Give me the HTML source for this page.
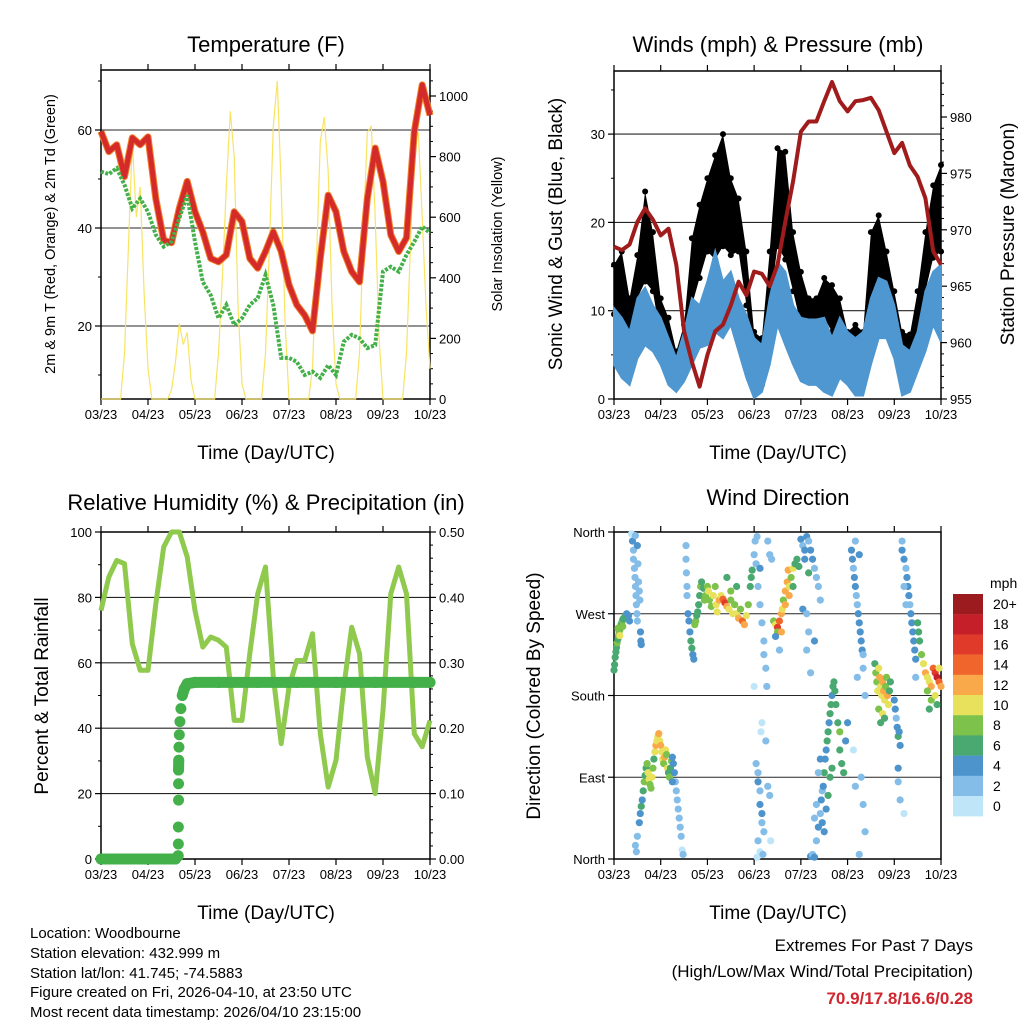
<!DOCTYPE html>
<html><head><meta charset="utf-8"><style>
body{margin:0;background:#fff}
svg{display:block;font-family:"Liberation Sans",sans-serif}
</style></head><body>
<svg id="c" width="1024" height="1024" viewBox="0 0 1024 1024">
<g font-size="22" text-anchor="middle">
<text x="266" y="52">Temperature (F)</text>
<text x="778" y="52">Winds (mph) &amp; Pressure (mb)</text>
<text x="266" y="510">Relative Humidity (%) &amp; Precipitation (in)</text>
<text x="778" y="505">Wind Direction</text>
</g>
<g font-size="19" text-anchor="middle">
<text x="266" y="459">Time (Day/UTC)</text>
<text x="778" y="459">Time (Day/UTC)</text>
<text x="266" y="919">Time (Day/UTC)</text>
<text x="778" y="919">Time (Day/UTC)</text>
<text transform="translate(55,234) rotate(-90)" font-size="14.5">2m &amp; 9m T (Red, Orange) &amp; 2m Td (Green)</text>
<text transform="translate(502,234) rotate(-90)" font-size="14.5">Solar Insolation (Yellow)</text>
<text transform="translate(562,234) rotate(-90)">Sonic Wind &amp; Gust (Blue, Black)</text>
<text transform="translate(1014,234) rotate(-90)">Station Pressure (Maroon)</text>
<text transform="translate(48,696) rotate(-90)">Percent &amp; Total Rainfall</text>
<text transform="translate(540,696) rotate(-90)">Direction (Colored By Speed)</text>
</g>
<g font-size="15">
<text x="30" y="938">Location: Woodbourne</text>
<text x="30" y="958">Station elevation: 432.999 m</text>
<text x="30" y="978">Station lat/lon: 41.745; -74.5883</text>
<text x="30" y="997">Figure created on Fri, 2026-04-10, at 23:50 UTC</text>
<text x="30" y="1017">Most recent data timestamp: 2026/04/10 23:15:00</text>
</g>
<g font-size="17" text-anchor="end">
<text x="973" y="951">Extremes For Past 7 Days</text>
<text x="973" y="977">(High/Low/Max Wind/Total Precipitation)</text>
<text x="973" y="1004" fill="#d02630" font-weight="bold">70.9/17.8/16.6/0.28</text>
</g>
</svg>
<script>
const dayLabels=["03/23","04/23","05/23","06/23","07/23","08/23","09/23","10/23"];
const hours4=[0,4,8,12,16,20,24,28,32,36,40,44,48,52,56,60,64,68,72,76,80,84,88,92,96,100,104,108,112,116,120,124,128,132,136,140,144,148,152,156,160,164,168];
const tempF=[59.7,55.6,57,50.5,58.4,57,58.6,46,37.5,37,44,49.5,43.3,39.2,33.8,33.1,34.5,43.3,41.3,33.8,31.8,35.2,39.2,35.2,28.4,24.3,22.2,19,33.8,46.7,43.3,35.2,31.1,29,46,56.3,49.5,38.6,35.2,38,59.7,69.2,63];
const dewF=[51.5,51,52.2,48.8,44,46,43.3,38.6,36.2,37.2,42,46.7,37.2,29,26.3,21.6,24.3,20.2,21.6,24.3,25.7,30.4,24.3,13.5,13.5,12.7,10,10.7,9.4,12,10,16.8,18.2,17.5,15.5,16.1,31.1,32.1,31.1,34.5,37.2,40.3,39];
const hours2=[0,2,4,6,8,10,12,14,16,18,20,22,24,26,28,30,32,34,36,38,40,42,44,46,48,50,52,54,56,58,60,62,64,66,68,70,72,74,76,78,80,82,84,86,88,90,92,94,96,98,100,102,104,106,108,110,112,114,116,118,120,122,124,126,128,130,132,134,136,138,140,142,144,146,148,150,152,154,156,158,160,162,164,166,168];
const solar=[0,0,0,0,0,0,150,500,850,600,700,350,100,0,0,0,0,0,30,120,250,180,220,60,0,0,0,0,0,0,150,400,700,950,800,300,50,0,0,0,0,0,150,500,900,1050,700,250,0,0,0,0,0,0,100,450,850,930,750,300,50,0,0,0,0,0,150,550,880,900,600,200,0,0,0,0,0,0,150,500,850,880,600,300,100];
const pressure=[968.5,968.2,968.7,970.7,971.9,970.9,969.5,970.1,966.9,961,958.3,956.1,958.9,961,961.6,963.3,965.4,964.2,966.3,966.1,965,966.9,970.7,974.3,978.7,979.6,979.6,981.4,983.1,981.4,980.5,981.4,981.5,981.7,980.6,978.7,976.8,977.7,975.7,974.7,972.8,968.1,966.9];
const windHi=[10.3,9.2,7.6,11.4,12.6,10.6,9.2,6.9,4.6,7.6,11.4,10.6,13.3,16.7,13.3,14.4,11.4,9.5,6.9,6.1,11.4,15.5,14.4,10.6,9.2,9,9,9.2,6.9,9.2,7.6,6.9,7.6,11.4,13.7,13.3,10.6,6.1,5.4,7.6,12.2,14.4,15.2];
const windLo=[3.9,2.4,1.6,4.6,6.1,5.4,3.9,1.6,0.8,2,3.9,5.8,6.1,7.6,6.9,8.4,5.4,2.4,0.1,0.8,3.9,8.4,6.1,3.9,2,1.6,1.6,0.8,0.4,2.4,1.6,0.4,0.4,3.9,6.9,6.9,4.6,0.4,0.8,3.1,5.4,8.4,6.5];
const gustHi=[15.2,16.7,11.4,16.3,23.5,18.9,11.4,9.2,5.4,8.4,18.2,22,25,27.6,30,25,22.7,16.7,7.6,6.9,16.7,28.4,28,18.9,14.4,11.4,11.4,13.7,12.9,11.4,7.6,8.4,7.6,18.9,20.8,16.7,12.2,7.6,7.3,12.2,18.9,24.2,26.5];
const gustLo=[9.6,9.4,5.4,11.4,13.3,12.2,6.9,3.9,1.6,3.1,10.6,13.7,16.7,15.8,17.3,16.3,16.7,10.6,3.5,1.6,10.6,17.3,15.8,12.2,8.4,6.9,6.9,9.2,7.6,5.4,3.9,4.6,3.9,11.4,13.7,11.4,7.6,4.6,3.9,6.9,12.2,16,16.7];
const rhPct=[76,86.2,91.3,90.3,65.8,57.7,57.7,78,95.4,100,100,92.4,76,64.8,67.9,66.9,64.8,42.4,42.4,62.8,81.1,89.3,55.7,35.3,52.6,60.7,60.7,68.9,38.3,22,30.2,52.6,70.9,62.8,31.2,20,45.5,81.1,89.3,81.1,38.3,34.3,42.4];
const precipHours=[0,4,8,12,16,20,24,28,32,36,38,39.4,39.5,39.5,39.6,39.6,39.6,39.7,39.8,40,40.3,40.8,41.5,42.5,44,48,60,80,100,120,140,160,168];
const precipIn=[0,0,0,0,0,0,0,0,0,0,0,0.005,0.023,0.049,0.09,0.115,0.136,0.151,0.171,0.19,0.21,0.23,0.25,0.26,0.268,0.27,0.27,0.27,0.27,0.27,0.27,0.27,0.27];
const dirHours=[0,0.3,0.6,1,1.3,1.6,2,2.3,2.6,3,3.3,3.6,4,4.3,4.6,5,5.5,6,6.5,7,7.5,8,2,3,4.5,
9.5,10,10,10.5,10.8,11,11.3,11.5,11.8,12,12.3,12.6,13,13.3,13.6,13.8,14,9,11,12,
11,11.5,12,13,13.5,14,14.5,15,15.5,16,16.5,17,17.5,18,18.5,19,19.5,20,20.5,21,21.5,22,22.5,23,23.5,24,24.5,25,25.5,26,26.5,27,27.5,28,28.5,29,29.5,30,30.5,31,31.5,32,32.5,33,33.5,34,34.5,35,35.5,30,
37,37,37.2,37.5,37.5,38,38.5,39,39.5,40,40.5,41,41.5,42,42.5,43,43.5,44,44.5,45,46,46.5,47,48,48.5,49,50,51,52,52.5,53,54,55,56,57,58,59,60,61,62,63,64,65,66,67,68,69,70,70.5,71,63,58,60,
72,72.5,73,73.5,74,75,75,76,77,77,78,78.5,75.5,76,78,73,74,74,75,75,76,76,77,74,75,73.5,76.5,79,80,80.5,79,80,81,72,
82,83,84,85,86,86.5,87,88,89,89.5,90,91,92,93,94,95,84,86,88,90,83,92,85,
96,97,98,99,100,101,102,103,104,105,106,98,100,97,99,100,103,99,101,
101,102,103,104,105,106,106.5,107,107.5,108,108.5,109,109.5,110,110.5,111,111.5,112,112.5,113,113.5,114,115,116,116,117,118,119,120,104,103,105,106,107,108,109,110,111,112,
122,122.5,123,123.5,124,124.5,125,125.5,126,126.5,127,127.5,128,126,124,128,125,129,127,128,129,126,123,124,
134,134.5,135,135.5,136,136.5,137,137.5,138,138.5,139,139.5,140,140.5,141,141.5,142,136,138,137,139,
144,144.5,145,145.5,146,146.5,147,146,146,147,149,
148,149,150,150.5,151,151.5,152,152.5,153,153.5,154,154.5,155,156,156.5,157,148,149,150,155,
158,159,160,161,162,163,164,165,166,167,168,161,163,165,162,166,167];
const dirDegrees=[208,214,222,228,233,238,242,246,250,252,255,258,260,262,264,265,266,268,270,266,268,262,254,246,256,
350,340,330,320,310,300,290,280,270,345,325,305,295,285,250,240,236,358,356,262,
15,8,25,40,50,58,65,75,85,92,100,105,95,88,82,78,90,100,110,118,125,130,135,138,130,125,118,110,105,112,120,115,100,95,90,100,108,112,105,95,85,75,65,55,45,35,25,10,5,85,
345,330,315,300,290,270,262,250,240,232,225,220,258,262,268,272,280,290,300,305,298,285,290,300,295,285,278,290,300,280,272,285,290,286,282,278,275,285,270,280,270,265,275,262,258,268,280,300,310,318,300,310,295,
335,350,325,355,300,320,280,260,240,225,210,190,140,150,130,105,95,85,75,60,50,40,30,20,8,2,5,80,70,20,350,335,330,190,
262,258,255,262,270,275,285,295,305,318,300,310,320,325,330,322,250,250,280,290,245,300,230,
352,345,340,355,350,340,330,320,310,300,285,330,315,275,270,250,240,230,205,
3,5,2,20,35,50,65,75,80,95,110,120,130,140,150,160,170,180,190,195,185,170,150,140,120,105,95,130,150,60,45,95,110,40,30,55,70,90,100,
340,330,320,310,300,290,280,270,260,250,240,230,225,335,350,210,200,180,90,60,30,5,120,80,
215,205,195,185,210,200,190,180,195,185,175,190,200,180,170,185,195,165,160,150,155,
175,165,155,145,135,140,125,100,85,65,50,
340,330,320,310,300,290,280,270,260,250,240,230,220,260,250,240,350,300,280,200,
225,215,205,200,195,190,210,205,200,195,190,185,175,180,165,170,210];
const dirSpeeds=[6,7,6,7,6,8,7,8,9,8,7,8,7,8,7,6,7,6,5,6,4,4,9,10,8,
4,3,3,2,3,3,2,3,3,4,2,3,2,3,4,4,4,1,2,2,
2,2,2,4,4,6,4,6,8,7,6,8,10,10,8,9,10,9,7,10,12,11,10,12,10,12,11,10,9,12,10,8,10,7,8,6,8,4,4,4,3,2,3,2,2,2,2,1,2,4,
3,2,3,2,3,4,4,5,6,6,4,4,9,8,6,7,6,7,8,7,6,8,9,8,10,9,8,10,9,10,11,12,11,14,16,12,10,9,10,8,11,12,9,14,13,10,8,7,6,6,7,7,8,
3,2,2,2,3,4,2,2,2,3,2,2,1,1,2,2,3,4,3,4,5,3,2,2,1,1,2,2,2,1,3,3,2,1,
9,10,16,14,12,10,8,12,12,13,11,8,10,7,6,7,8,12,13,12,5,6,3,
4,3,4,4,3,4,4,3,3,2,3,4,6,4,3,2,4,3,2,
4,3,4,3,4,3,4,3,5,6,4,5,6,6,5,6,6,5,6,7,6,6,6,8,6,6,7,4,4,2,2,3,4,5,4,5,6,7,6,
4,4,3,4,4,3,3,4,4,5,4,4,3,4,2,2,2,2,2,2,2,2,1,2,
6,8,8,10,11,12,10,11,12,12,10,9,8,12,10,7,6,8,10,6,7,
4,4,3,5,6,4,4,4,2,2,1,
4,4,3,4,4,4,3,4,4,5,4,5,4,6,6,7,2,2,3,3,
8,10,12,11,10,12,14,16,18,14,12,9,8,10,6,7,10];
const speedBinLabels=["20+","18","16","14","12","10","8","6","4","2","0"];
const speedColors=["#9b1b1f","#c5202a","#e03a2b","#f0652b","#f9a94a","#e8e15b","#7dc24b","#4aa871","#4d93cc","#84bde8","#bfe6f8"];

const NS="http://www.w3.org/2000/svg";
const svg=document.getElementById('c');
function mk(tag,attrs,parent){const e=document.createElementNS(NS,tag);for(const k in attrs)e.setAttribute(k,attrs[k]);(parent||svg).appendChild(e);return e;}
function grp(name){const g=mk('g',{});


return g;}
const L={x0:101,x1:430},R={x0:614,x1:941};
function xs(p,h){return p.x0+(p.x1-p.x0)*h/168;}
const tempY=t=>424-4.9*t, solarY=s=>399-0.303*s;
const windY=w=>399-8.83*w, presY=p=>399-11.28*(p-955);
const rhY=r=>859-3.27*r, prY=p=>859-654*p;
const dirY=d=>859-d*327/360;

function frame(p,top,bot,name){
  const g=grp(name);
  mk('rect',{x:p.x0,y:top,width:p.x1-p.x0,height:bot-top,fill:'none',stroke:'#000','stroke-width':1.5},g);
  dayLabels.forEach((lab,i)=>{const x=p.x0+(p.x1-p.x0)*i/7;
    mk('line',{x1:x,x2:x,y1:bot,y2:bot+6,stroke:'#000','stroke-width':1.2},g);
    mk('line',{x1:x,x2:x,y1:top,y2:top-6,stroke:'#000','stroke-width':1.2},g);
    const t=mk('text',{x:x,y:bot+20,'font-size':13,'text-anchor':'middle'},g);t.textContent=lab;
    
    
  });
  return g;
}
function yTicks(g,vals,fy,x,side,labels,grid,p){
  vals.forEach((v,i)=>{const y=fy(v);
    if(grid&&y>p.top+2&&y<p.bot-2) mk('line',{x1:p.x0,x2:p.x1,y1:y,y2:y,stroke:'#000','stroke-width':1.1,opacity:0.85},g);
    mk('line',{x1:x,x2:x+(side<0?-6:6),y1:y,y2:y,stroke:'#000','stroke-width':1.2},g);
    if(labels&&labels[i]!==null){const t=mk('text',{x:x+(side<0?-9:9),y:y+5,'font-size':13,'text-anchor':side<0?'end':'start'},g);t.textContent=labels[i];
      
      }
  });
}
function minor(g,vals,fy,x,side){vals.forEach(v=>{const y=fy(v);mk('line',{x1:x,x2:x+(side<0?-3:3),y1:y,y2:y,stroke:'#000','stroke-width':1},g);});}
function path(pts){return pts.map((p,i)=>(i?'L':'M')+p[0].toFixed(1)+','+p[1].toFixed(1)).join('');}

{const P={x0:L.x0,x1:L.x1,top:70,bot:399};
 const g=frame(L,70,399,'temperature-panel');
 yTicks(g,[20,40,60],tempY,L.x0,-1,["20","40","60"],true,P);
 minor(g,[10,30,50,70],tempY,L.x0,-1);
 yTicks(g,[0,200,400,600,800,1000],solarY,L.x1,1,["0","200","400","600","800","1000"],false,P);
 const m=[];for(let s=50;s<1080;s+=50)if(s%200)m.push(s);minor(g,m,solarY,L.x1,1);
 const sp=mk('path',{d:path(hours2.map((h,i)=>[xs(L,h),solarY(solar[i])])),fill:'none',stroke:'#f8e463','stroke-width':1.2},g);
 
 
 const tp=hours4.map((h,i)=>[xs(L,h),tempY(tempF[i])]);
 const o=mk('path',{d:path(tp),fill:'none',stroke:'#f07f2a','stroke-width':7,'stroke-linejoin':'round'},g);
 
 
 const r=mk('path',{d:path(tp),fill:'none',stroke:'#d42a2a','stroke-width':5,'stroke-linejoin':'round'},g);
 
 
 const d=mk('path',{d:path(hours4.map((h,i)=>[xs(L,h),tempY(dewF[i])])),fill:'none',stroke:'#44b04a','stroke-width':4,'stroke-dasharray':'3 1.5'},g);
 
 
}
{const P={x0:R.x0,x1:R.x1,top:71,bot:399};
 const g=frame(R,71,399,'wind-panel');
 yTicks(g,[0,10,20,30],windY,R.x0,-1,["0","10","20","30"],true,P);
 minor(g,[5,15,25,35],windY,R.x0,-1);
 yTicks(g,[955,960,965,970,975,980],presY,R.x1,1,["955","960","965","970","975","980"],false,P);
 const m=[];for(let p=956;p<984;p++)if(p%5)m.push(p);minor(g,m,presY,R.x1,1);
 const band=(hi,lo)=>path(hours4.map((h,i)=>[xs(R,h),windY(hi[i])]).concat(hours4.map((h,i)=>[xs(R,h),windY(lo[i])]).reverse()))+'Z';
 const gb=mk('path',{d:band(gustHi,gustLo),fill:'#000'},g);
 
 
 hours4.forEach((h,i)=>{[gustHi[i],gustLo[i]].forEach(v=>{const c=mk('circle',{cx:xs(R,h),cy:windY(v),r:3,fill:'#000'},g);
   
   });});
 const wb=mk('path',{d:band(windHi,windLo),fill:'#4f97d0',stroke:'#4f97d0','stroke-width':2},g);
 
 
 const pl=mk('path',{d:path(hours4.map((h,i)=>[xs(R,h),presY(pressure[i])])),fill:'none',stroke:'#a01c1c','stroke-width':4,'stroke-linejoin':'round'},g);
 
 
}
{const P={x0:L.x0,x1:L.x1,top:532,bot:859};
 const g=frame(L,532,859,'humidity-panel');
 yTicks(g,[0,20,40,60,80,100],rhY,L.x0,-1,["0","20","40","60","80","100"],true,P);
 minor(g,[10,30,50,70,90],rhY,L.x0,-1);
 yTicks(g,[0,0.1,0.2,0.3,0.4,0.5],prY,L.x1,1,["0.00","0.10","0.20","0.30","0.40","0.50"],false,P);
 const m=[];for(let p=0.02;p<0.5;p+=0.02)if(Math.round(p*100)%10)m.push(p);minor(g,m,prY,L.x1,1);
 const rl=mk('path',{d:path(hours4.map((h,i)=>[xs(L,h),rhY(rhPct[i])])),fill:'none',stroke:'#8fca4e','stroke-width':5,'stroke-linejoin':'round'},g);
 
 
 for(let i=1;i<precipHours.length;i++){if(Math.abs(precipIn[i]-precipIn[i-1])<0.015){
   const s=mk('line',{x1:xs(L,precipHours[i-1]),x2:xs(L,precipHours[i]),y1:prY(precipIn[i-1]),y2:prY(precipIn[i]),stroke:'#44b04a','stroke-width':11,'stroke-linecap':'round'},g);
   
   }}
 precipHours.forEach((h,i)=>{const c=mk('circle',{cx:xs(L,h),cy:prY(precipIn[i]),r:5.5,fill:'#44b04a'},g);
   
   });
}
{const P={x0:R.x0,x1:R.x1,top:532,bot:859};
 const g=frame(R,532,859,'direction-panel');
 yTicks(g,[0,90,180,270,360],dirY,R.x0,-1,["North","East","South","West","North"],true,P);
 dirHours.forEach((h,i)=>{const s=dirSpeeds[i];let b=Math.min(10,Math.floor(s/2));
   const c=mk('circle',{cx:xs(R,h),cy:dirY(dirDegrees[i]),r:3.6,fill:speedColors[10-b]},g);
   
   });
 const lg=grp('speed-legend');
 const t=mk('text',{x:990,y:588,'font-size':14},lg);t.textContent='mph';
 speedBinLabels.forEach((lab,i)=>{const y=594+i*20.2;
   const r=mk('rect',{x:953,y:y,width:30,height:20.4,fill:speedColors[i]},lg);
   
   
   const tt=mk('text',{x:993,y:y+15,'font-size':14},lg);tt.textContent=lab;
   
   });
}
</script>
</body></html>
